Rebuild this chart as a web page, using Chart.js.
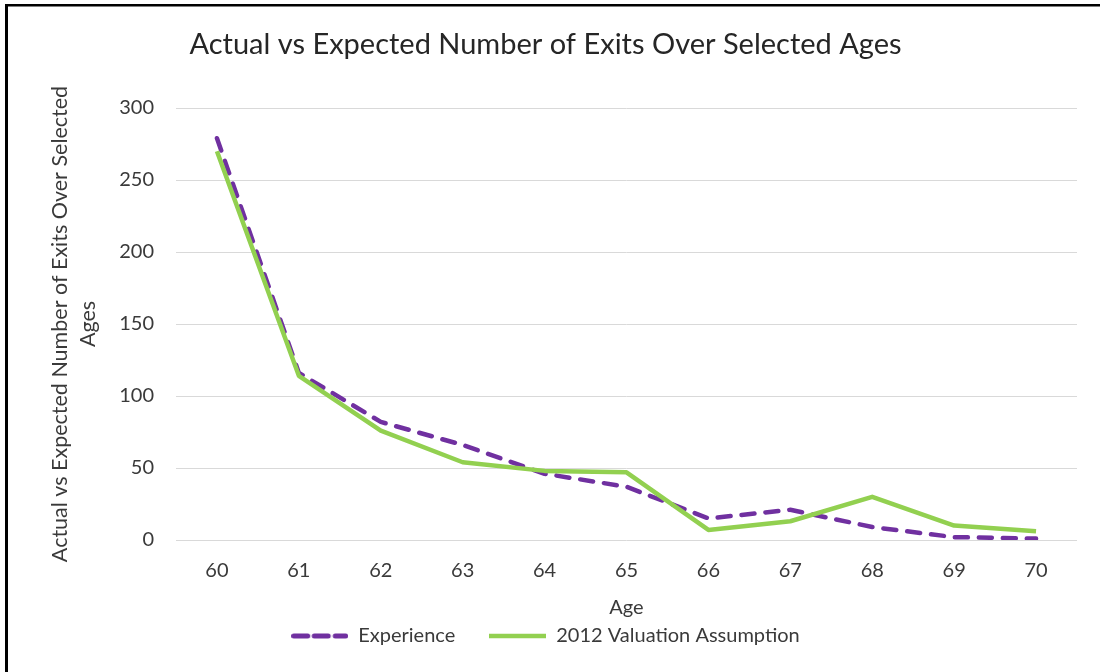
<!DOCTYPE html>
<html>
<head>
<meta charset="utf-8">
<script src="https://cdn.jsdelivr.net/npm/chart.js@4.4.1/dist/chart.umd.min.js"></script>
<style>
  html, body { margin: 0; padding: 0; background: #ffffff; }
  #wrap { width: 1100px; height: 672px; }
</style>
</head>
<body>
<div id="wrap"><canvas id="exits" width="1100" height="672"></canvas></div>
<script>
// Ages on the horizontal axis
const ages = ['60', '61', '62', '63', '64', '65', '66', '67', '68', '69', '70'];
// Observed exits by age
const experience = [279, 116, 82, 66, 46, 37, 15, 21, 9, 2, 1];
// Exits expected under the 2012 valuation assumption
const valuation = [270, 114, 76, 54, 48, 47, 7, 13, 30, 10, 6];
// Value axis ticks
const yTicks = [0, 50, 100, 150, 200, 250, 300];

const PURPLE = '#7030A0';
const GREEN = '#92D050';
const TEXT = '#3a3a3a';
const FONT = 'Lato, "Open Sans", sans-serif';

// Small swatches for the legend: dashed purple and solid green strokes
function swatch(kind) {
  const c = document.createElement('canvas');
  c.width = 57; c.height = 8;
  const g = c.getContext('2d');
  g.lineCap = 'round';
  g.lineWidth = 5;
  if (kind === 'dash') {
    g.strokeStyle = PURPLE;
    [[2.5, 16.5], [23, 37], [44, 54.5]].forEach(([a, b]) => {
      g.beginPath(); g.moveTo(a, 4); g.lineTo(b, 4); g.stroke();
    });
  } else {
    g.strokeStyle = GREEN;
    g.lineCap = 'butt';
    g.lineWidth = 4.5;
    g.beginPath(); g.moveTo(0, 4); g.lineTo(57, 4); g.stroke();
  }
  return c;
}
const swatches = [swatch('dash'), swatch('solid')];

// White page with a black frame along the top and left edges
const framePlugin = {
  id: 'frame',
  beforeDraw(chart) {
    const ctx = chart.ctx;
    ctx.save();
    ctx.fillStyle = '#ffffff';
    ctx.fillRect(0, 0, chart.width, chart.height);
    ctx.restore();
  },
  afterDraw(chart) {
    const ctx = chart.ctx;
    ctx.save();
    ctx.fillStyle = '#000000';
    ctx.fillRect(5, 4, chart.width - 5, 2.5);
    ctx.fillRect(5, 4, 3, chart.height - 4);
    ctx.restore();
  }
};

function draw() {
  new Chart(document.getElementById('exits'), {
    type: 'line',
    data: {
      labels: ages,
      datasets: [
        {
          label: 'Experience',
          data: experience,
          borderColor: PURPLE,
          backgroundColor: PURPLE,
          borderWidth: 4.5,
          borderDash: [13, 11],
          borderCapStyle: 'round',
          borderJoinStyle: 'round',
          pointRadius: 0,
          tension: 0,
          fill: false,
          order: 1
        },
        {
          label: '2012 Valuation Assumption',
          data: valuation,
          borderColor: GREEN,
          backgroundColor: GREEN,
          borderWidth: 4.5,
          borderJoinStyle: 'round',
          pointRadius: 0,
          tension: 0,
          fill: false,
          order: 0
        }
      ]
    },
    options: {
      responsive: false,
      animation: false,
      devicePixelRatio: 1,
      layout: { padding: { top: 6, left: 14, right: 23, bottom: 16 } },
      plugins: {
        title: {
          display: true,
          text: 'Actual vs Expected Number of Exits Over Selected Ages',
          color: '#262626',
          font: { family: FONT, size: 29, weight: 'normal', lineHeight: 1.2 },
          padding: { top: 21.6, bottom: 45.6 }
        },
        legend: {
          position: 'bottom',
          labels: {
            color: TEXT,
            font: { family: FONT, size: 20 },
            usePointStyle: true,
            pointStyleWidth: 57,
            padding: 34,
            sort: (a, b) => a.datasetIndex - b.datasetIndex,
            generateLabels(chart) {
              const items = Chart.defaults.plugins.legend.labels.generateLabels(chart);
              items.forEach(it => { it.pointStyle = swatches[it.datasetIndex]; });
              return items;
            }
          }
        },
        tooltip: { enabled: false }
      },
      scales: {
        x: {
          type: 'category',
          offset: true,
          grid: { display: false, drawTicks: false },
          border: { display: false },
          ticks: { color: TEXT, font: { family: FONT, size: 20 }, padding: 19, maxRotation: 0 },
          title: {
            display: true,
            text: 'Age',
            color: TEXT,
            font: { family: FONT, size: 20, lineHeight: 1.2 },
            padding: { top: 0, bottom: -28 }
          },
          afterFit(scale) { scale.height = 52; }
        },
        y: {
          min: 0,
          max: 300,
          grid: { color: '#d9d9d9', lineWidth: 1, drawTicks: false },
          border: { display: false },
          ticks: { color: TEXT, font: { family: FONT, size: 20 }, padding: 22, stepSize: 50 },
          afterBuildTicks(scale) { scale.ticks = yTicks.map(v => ({ value: v })); },
          title: {
            display: true,
            text: ['Actual vs Expected Number of Exits Over Selected', 'Ages'],
            color: TEXT,
            font: { family: FONT, size: 21.5, lineHeight: 1.3 },
            padding: { top: 32, bottom: 0 }
          },
          afterFit(scale) { scale.width = 162; }
        }
      }
    },
    plugins: [framePlugin]
  });
}

const fontLoads = ['20px Lato', '29px Lato'].map(f => document.fonts.load(f).catch(() => null));
Promise.all(fontLoads).then(draw, draw);
</script>
</body>
</html>
